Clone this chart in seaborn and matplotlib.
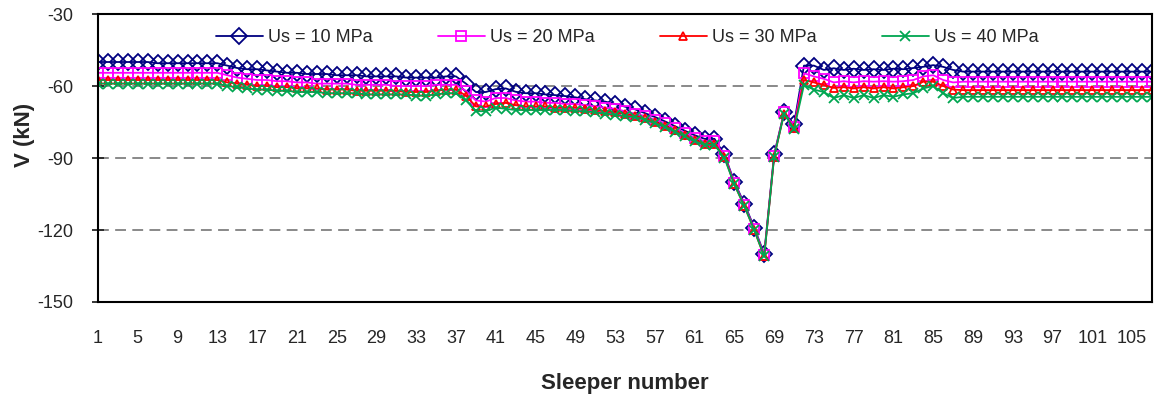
import numpy as np
import pandas as pd
import seaborn as sns
import matplotlib.pyplot as plt

# sleeper number 1..107
sleeper = list(range(1, 108))

us10 = ([-50] * 6 + [-50.5] * 7 +
        [-51.5, -52.5, -53, -53, -53.5, -54, -54.5, -54.5, -55, -55, -55, -55.5,
         -55.5, -55.5, -56, -56, -56, -56, -56.5, -56.5, -56.5, -56.5, -56, -56] +
        [-59, -62.5, -62.5, -61.3, -61, -62.4, -63, -63, -63.5, -63.8, -64.2, -64.7,
         -65.5, -66, -66.5, -67.5, -68.6, -69.7, -71.3, -72.9, -74.7, -76.7, -78.6,
         -80.5, -82, -82, -88.5, -100, -109, -119, -130, -88.5, -71, -76] +
        [-51.5, -51.5, -53.3, -52.6, -53.3, -52.8, -53.3, -53, -53.3, -52.8, -53,
         -52.5, -52, -51.3, -52, -53.3] +
        [-54] * 20)

us20 = ([-54.5] * 13 +
        [-55.5, -56.5, -57, -57.5, -57.5, -58, -58, -58.5, -58.5, -59, -59, -59,
         -59, -59.5, -59.5, -59.5, -59.5, -60, -60, -60, -60, -59.5, -59.5, -59.5] +
        [-62, -66, -66.5, -65, -65, -66, -66.5, -66.5, -67, -67, -67.5, -67.5,
         -68, -68.5, -69, -69.5, -70.5, -71.5, -72.5, -74, -75.5, -77.5, -79.5,
         -81.5, -83, -83, -89, -100.5, -109.5, -119.5, -130.5, -89, -71, -77] +
        [-54.7, -56, -57, -58.5, -58, -58.5, -58, -58.2, -58, -58.2, -58, -57.5,
         -56, -55.5, -57.5, -58.5] +
        [-58.2] * 20)

us30 = ([-57.5] * 13 +
        [-58.5, -59, -59.5, -60, -60, -60.5, -60.5, -61, -61, -61, -61.5, -61.5,
         -61.5, -62, -62, -62, -62, -62, -62.5, -62.5, -62.5, -62, -61.5, -61.5] +
        [-64, -68.5, -68.5, -67.5, -67, -68, -68.5, -68.5, -68.5, -69, -69, -69,
         -69.5, -70, -70.5, -71, -71.5, -72.5, -73.5, -75, -76.5, -78.5, -80.5,
         -82.5, -84, -84, -89.5, -101, -110, -120, -131, -89.5, -71.5, -77.5] +
        [-57.5, -58.5, -59.6, -60.8, -60.5, -61, -60.5, -61, -60.5, -61, -60.5, -60,
         -58.2, -58.2, -60, -61.5] +
        [-61.7] * 20)

us40 = ([-59] * 13 +
        [-60, -60.5, -61, -61.5, -61.5, -62, -62, -62.5, -62.5, -62.5, -63, -63,
         -63, -63, -63.5, -63.5, -63.5, -63.5, -63.5, -64, -64, -63.5, -63, -63] +
        [-66, -70.5, -70.5, -69, -69.5, -70, -70, -70, -70, -70, -70, -70.5,
         -70.5, -71, -71.5, -72, -72.5, -73, -74, -75.5, -77, -79, -81,
         -83, -84.5, -84.5, -90, -101, -110, -120, -131, -89.5, -71.5, -78] +
        [-59.6, -61.5, -62.5, -65, -63.8, -65, -63.8, -65, -63.8, -64.5, -63.5, -63,
         -61, -60, -63, -65] +
        [-64.5] * 20)

labels = ["Us = 10 MPa", "Us = 20 MPa", "Us = 30 MPa", "Us = 40 MPa"]
colors = ["#000080", "#FF00FF", "#FF0000", "#00A651"]
markers = ["D", "s", "^", "x"]
msizes = [8, 7.5, 6, 7]

df = pd.DataFrame({"Sleeper": sleeper, labels[0]: us10, labels[1]: us20,
                   labels[2]: us30, labels[3]: us40})

sns.set_style("white")
plt.rcParams['font.family'] = ['Liberation Sans', 'DejaVu Sans']
plt.rcParams['axes.unicode_minus'] = False

fig = plt.figure(figsize=(11.56, 3.97), dpi=100)
ax = fig.add_axes([0.0848, 0.2393, 0.9117, 0.7254])

for lab, c, m, ms in zip(labels, colors, markers, msizes):
    sns.lineplot(data=df, x="Sleeper", y=lab, ax=ax, color=c, marker=m,
                 markersize=ms, markerfacecolor="none", markeredgecolor=c,
                 markeredgewidth=1.3, linewidth=1.3, label=lab)

for yv in [-60, -90, -120]:
    ax.axhline(yv, color="#808080", linestyle=(0, (6, 3.5)), linewidth=1.3, zorder=0)

ax.set_xlim(1, 107)
ax.set_ylim(-150, -30)
ax.set_yticks([-150, -120, -90, -60, -30])
ax.set_xticks(list(range(1, 106, 4)))
ax.tick_params(axis="y", labelsize=13, direction="inout", length=8, width=1.3,
               left=True, pad=14)
ax.tick_params(axis="x", labelsize=13, length=0, pad=20)
for sp in ax.spines.values():
    sp.set_color("black")
    sp.set_linewidth(1.5)

ax.set_xlabel("Sleeper number", fontsize=16, fontweight="bold", labelpad=19)
ax.set_ylabel("V (kN)", fontsize=16, fontweight="bold")
ax.yaxis.set_label_coords(-0.060, 0.58)

ax.legend(loc="center", bbox_to_anchor=(0.502, 0.917), ncol=4, frameon=False,
          fontsize=13, handlelength=2.6, columnspacing=3.6, handletextpad=0.3)

fig.savefig("out.png", dpi=100)
